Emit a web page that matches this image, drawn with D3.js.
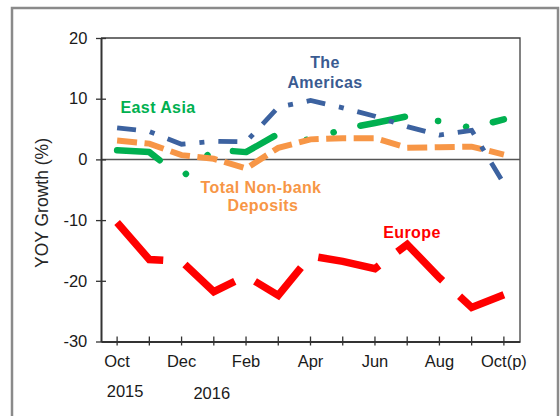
<!DOCTYPE html>
<html><head><meta charset="utf-8">
<script src="https://cdn.jsdelivr.net/npm/d3@7"></script>
<style>body{margin:0;background:#fff;} svg{display:block;font-family:"Liberation Sans",Arial,sans-serif;}</style>
</head><body><svg id="c" width="560" height="416"></svg>
<script>
const months = ["Oct15","Nov15","Dec15","Jan16","Feb16","Mar16","Apr16","May16","Jun16","Jul16","Aug16","Sep16","Oct16"];
const monthLabels = ["Oct","","Dec","","Feb","","Apr","","Jun","","Aug","","Oct(p)"];
const yearLabels = ["2015","2016"];
const yTicks = [-30,-20,-10,0,10,20];
const eastAsia = [1.5,1.2,-3.0,1.6,1.2,4.2,3.1,5.0,6.0,7.1,6.3,5.2,6.6];
const americas = [5.2,4.6,2.5,3.0,2.9,8.6,9.7,8.5,7.1,5.4,4.0,4.8,-4.0];
const totalDeposits = [3.1,2.6,0.7,0.1,-1.5,1.9,3.3,3.5,3.5,1.9,2.0,2.1,0.8];
const europe = [-10.4,-16.5,-16.8,-21.8,-19.2,-22.4,-15.9,-16.8,-18.0,-14.0,-19.5,-24.4,-22.3];

const svg = d3.select("#c");
const L=101,R=520,T=38,B=341.5;
const FS = 16.5;
svg.append("rect").attr("x",12).attr("y",8).attr("width",546).attr("height",430)
  .attr("fill","#fff").attr("stroke","#8a8a8a").attr("stroke-width",2.5);

const x = d3.scaleBand().domain(months).range([L,R]);
const cx = m => x(m)+x.bandwidth()/2;
const y = d3.scaleLinear().domain([-30,20]).range([B,T]);

// top & right border
svg.append("path").attr("d",`M${L},${T}H${R}V${B}`).attr("fill","none")
  .attr("stroke","#404040").attr("stroke-width",1.3);
// zero line
svg.append("line").attr("x1",L).attr("x2",R).attr("y1",y(0)).attr("y2",y(0))
  .attr("stroke","#555").attr("stroke-width",1.5);

// y axis
const ya = svg.append("g").attr("transform",`translate(${L},0)`)
  .call(d3.axisLeft(y).tickValues(yTicks).tickSize(5).tickSizeOuter(0).tickPadding(8.7).tickFormat(d=>String(d)));
ya.selectAll(".tick").append("line").attr("x2",5).attr("stroke","#333").attr("stroke-width",1.3);
ya.selectAll(".tick line").attr("stroke","#333").attr("stroke-width",1.3);
ya.select(".domain").attr("stroke","#333").attr("stroke-width",2);
ya.selectAll("text").attr("font-size",FS).attr("font-family","Liberation Sans, Arial, sans-serif").attr("fill","#1a1a1a");

// x axis
const xa = svg.append("g").attr("transform",`translate(0,${B})`)
  .call(d3.axisBottom(x).tickSize(4).tickSizeOuter(0).tickPadding(9.5).tickFormat((d,i)=>monthLabels[i]));
xa.selectAll(".tick").append("line").attr("y2",-5).attr("stroke","#333").attr("stroke-width",1.3);
xa.selectAll(".tick line").attr("stroke","#333").attr("stroke-width",1.3);
xa.select(".domain").attr("stroke","#333").attr("stroke-width",2);
xa.selectAll("text").attr("font-size",FS).attr("font-family","Liberation Sans, Arial, sans-serif").attr("fill","#1a1a1a");

// year labels
svg.append("text").attr("x",cx(months[0])+8).attr("y",396.5).attr("text-anchor","middle")
  .attr("font-size",FS).attr("fill","#1a1a1a").text(yearLabels[0]);
svg.append("text").attr("x",cx(months[3])-2).attr("y",398.5).attr("text-anchor","middle")
  .attr("font-size",FS).attr("fill","#1a1a1a").text(yearLabels[1]);

// y title
svg.append("text").attr("transform","translate(48,203) rotate(-90)").attr("text-anchor","middle")
  .attr("font-size",17.5).attr("fill","#262626").text("YOY Growth (%)");

const line = d3.line().x((d,i)=>cx(months[i])).y(d=>y(d));

svg.append("path").datum(europe).attr("d",line).attr("fill","none")
  .attr("stroke","#FF0000").attr("stroke-width",7.5).attr("stroke-dasharray","63,23")
  .attr("stroke-linejoin","miter").attr("stroke-linecap","butt");
svg.append("path").datum(eastAsia).attr("d",line).attr("fill","none")
  .attr("stroke","#00B050").attr("stroke-width",6.5).attr("stroke-dasharray","45.5,33.5,0.1,28.5,0.1,27.5")
  .attr("stroke-linejoin","round").attr("stroke-linecap","round");
svg.append("path").datum(totalDeposits).attr("d",line).attr("fill","none")
  .attr("stroke","#F79646").attr("stroke-width",6).attr("stroke-dasharray","20,7.5")
  .attr("stroke-linejoin","miter").attr("stroke-linecap","butt");
svg.append("path").datum(americas).attr("d",line).attr("fill","none")
  .attr("stroke","#3C62A0").attr("stroke-width",4.8).attr("stroke-dasharray","19,14,5,14")
  .attr("stroke-linejoin","miter").attr("stroke-linecap","butt");

// series labels
const lab = (t,xx,yy,c,anchor) => svg.append("text").attr("x",xx).attr("y",yy)
  .attr("text-anchor",anchor).attr("font-size",16).attr("font-weight","bold")
  .attr("letter-spacing",0.4).attr("fill",c).text(t);
lab("East Asia",120.5,113,"#00B050","start");
lab("The",325,67.5,"#3A5B91","middle");
lab("Americas",325,87.5,"#3A5B91","middle");
lab("Total Non-bank",261,192.5,"#F79646","middle");
lab("Deposits",263,211,"#F79646","middle");
lab("Europe",412,237.5,"#FF0000","middle");
</script></body></html>
